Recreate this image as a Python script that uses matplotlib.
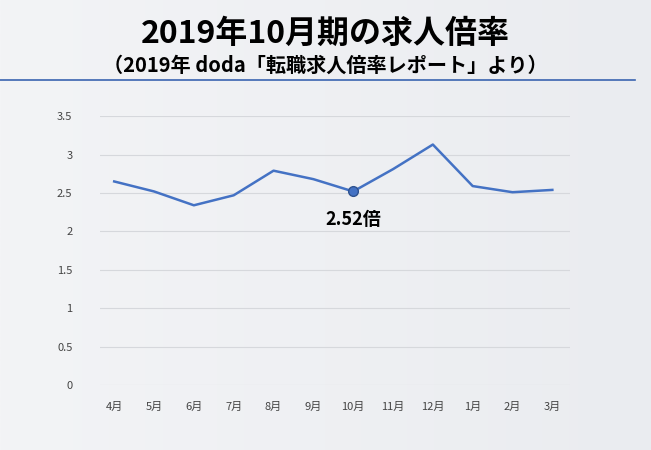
import matplotlib.pyplot as plt
import numpy as np

plt.rcParams['font.family'] = 'Noto Sans CJK JP'

months = ["4月", "5月", "6月", "7月", "8月", "9月", "10月", "11月", "12月", "1月", "2月", "3月"]
ratio = [2.65, 2.52, 2.34, 2.47, 2.79, 2.68, 2.52, 2.81, 3.13, 2.59, 2.51, 2.54]
yticks = [0, 0.5, 1, 1.5, 2, 2.5, 3, 3.5]
ytick_labels = ["0", "0.5", "1", "1.5", "2", "2.5", "3", "3.5"]

fig = plt.figure(figsize=(6.51, 4.5), dpi=100)
# light gradient background
bg = fig.add_axes([0, 0, 1, 1], zorder=-10)
grad = np.linspace(0, 1, 256).reshape(1, -1)
bg.imshow(grad, extent=[0, 1, 0, 1], aspect='auto',
          cmap=plt.matplotlib.colors.LinearSegmentedColormap.from_list('bg', ['#f3f4f6', '#eaecf0']))
bg.axis('off')

fig.text(0.5, 0.925, "2019年10月期の求人倍率", ha='center', va='center', fontsize=23, fontweight='bold')
fig.text(0.5, 0.855, "（2019年 doda「転職求人倍率レポート」より）", ha='center', va='center', fontsize=14.5, fontweight='bold')
fig.add_artist(plt.Line2D([0.0, 0.975], [0.822, 0.822], color='#3a64b0', lw=1.2))

ax = fig.add_axes([0.154, 0.144, 0.722, 0.598])
ax.set_facecolor('none')
x = np.arange(len(months))
ax.plot(x, ratio, color='#4472c4', lw=1.8)
ax.plot(x[6], ratio[6], 'o', color='#4472c4', ms=7, mec='#2f528f')
ax.text(x[6], ratio[6] - 0.37, "2.52倍", ha='center', va='center', fontsize=13, fontweight='bold')
ax.set_xlim(-0.35, 11.45)
ax.set_ylim(0, 3.5)
ax.set_yticks(yticks)
ax.set_yticklabels(ytick_labels)
ax.set_xticks(x)
ax.set_xticklabels(months)
ax.grid(axis='y', color='#d6d8dc', lw=0.8)
ax.set_axisbelow(True)
for s in ax.spines.values():
    s.set_visible(False)
ax.tick_params(length=0, labelsize=8, colors='#444444')
ax.tick_params(axis='x', pad=12)
ax.tick_params(axis='y', pad=20)

fig.savefig("out.png", dpi=100)
